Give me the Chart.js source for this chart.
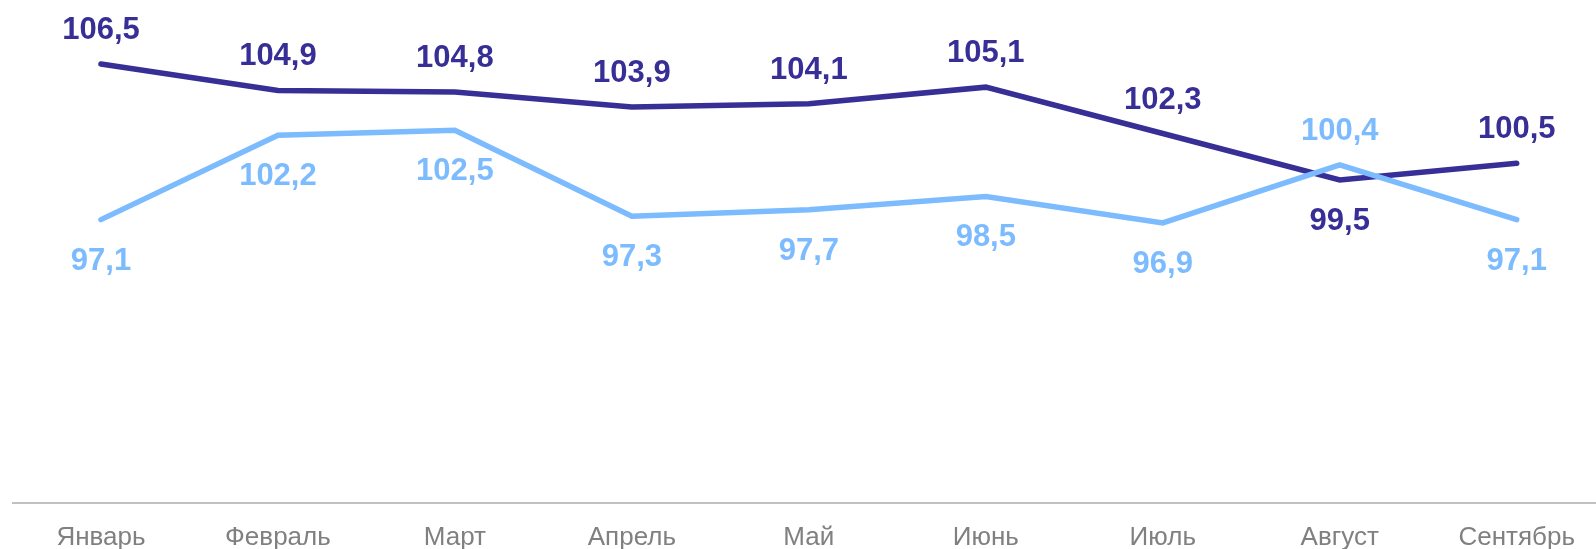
<!DOCTYPE html>
<html>
<head>
<meta charset="utf-8">
<script src="https://cdn.jsdelivr.net/npm/chart.js@4.4.1/dist/chart.umd.min.js"></script>
<style>
	html, body { margin: 0; padding: 0; background: #ffffff; overflow: hidden; }
	#wrap { width: 1596px; height: 549px; position: relative; }
</style>
</head>
<body>
<div id="wrap"><canvas id="indexChart"></canvas></div>
<script>
const months = ['Январь', 'Февраль', 'Март', 'Апрель', 'Май', 'Июнь', 'Июль', 'Август', 'Сентябрь'];
const darkValues = [106.5, 104.9, 104.8, 103.9, 104.1, 105.1, 102.3, 99.5, 100.5];
const lightValues = [97.1, 102.2, 102.5, 97.3, 97.7, 98.5, 96.9, 100.4, 97.1];

// where the value labels go (Август is swapped in the picture)
const darkBelow = ['Август'];
const lightAbove = ['Август'];

const DARK = '#372f96';
const LIGHT = '#7dbbff';

function fmt(v) {
	return v.toFixed(1).replace('.', ',');
}

const valueLabels = {
	id: 'valueLabels',
	afterDatasetsDraw(chart) {
		const ctx = chart.ctx;
		ctx.save();
		ctx.font = 'bold 31px "Liberation Sans", Arial, sans-serif';
		ctx.textAlign = 'center';
		ctx.textBaseline = 'alphabetic';
		chart.data.datasets.forEach((ds, di) => {
			const meta = chart.getDatasetMeta(di);
			meta.data.forEach((pt, i) => {
				let above = ds.labelsAbove;
				if (ds.labelsAbove && darkBelow.includes(months[i])) above = false;
				if (!ds.labelsAbove && lightAbove.includes(months[i])) above = true;
				const y = above ? pt.y - 25 : pt.y + 50;
				ctx.fillStyle = ds.borderColor;
				ctx.fillText(fmt(ds.data[i].y), pt.x, y);
			});
		});
		ctx.restore();
	}
};

function toPoints(values) {
	return values.map((v, i) => ({ x: i, y: v }));
}

new Chart(document.getElementById('indexChart'), {
	type: 'line',
	data: {
		datasets: [
			{
				data: toPoints(lightValues),
				borderColor: LIGHT,
				borderWidth: 5.5,
				pointRadius: 0,
				tension: 0,
				borderCapStyle: 'round',
				labelsAbove: false,
			},
			{
				data: toPoints(darkValues),
				borderColor: DARK,
				borderWidth: 5.5,
				pointRadius: 0,
				tension: 0,
				borderCapStyle: 'round',
				labelsAbove: true,
			},
		],
	},
	options: {
		responsive: true,
		maintainAspectRatio: false,
		animation: false,
		layout: {
			padding: { left: 13, right: 0, top: 6, bottom: -23 },
		},
		plugins: {
			legend: { display: false },
			tooltip: { enabled: false },
		},
		scales: {
			x: {
				type: 'linear',
				min: -0.497,
				max: 8.448,
				afterBuildTicks: (scale) => {
					scale.ticks = months.map((m, i) => ({ value: i }));
				},
				grid: { display: false, drawTicks: false },
				border: { display: true, color: '#c0c0c0', width: 2 },
				ticks: {
					autoSkip: false,
					maxRotation: 0,
					padding: 19,
					color: '#808080',
					font: { family: '"Liberation Sans", Arial, sans-serif', size: 26 },
					callback: (value) => months[value] ?? '',
				},
			},
			y: {
				display: false,
				min: 80,
				max: 110,
			},
		},
	},
	plugins: [valueLabels],
});
</script>
</body>
</html>
